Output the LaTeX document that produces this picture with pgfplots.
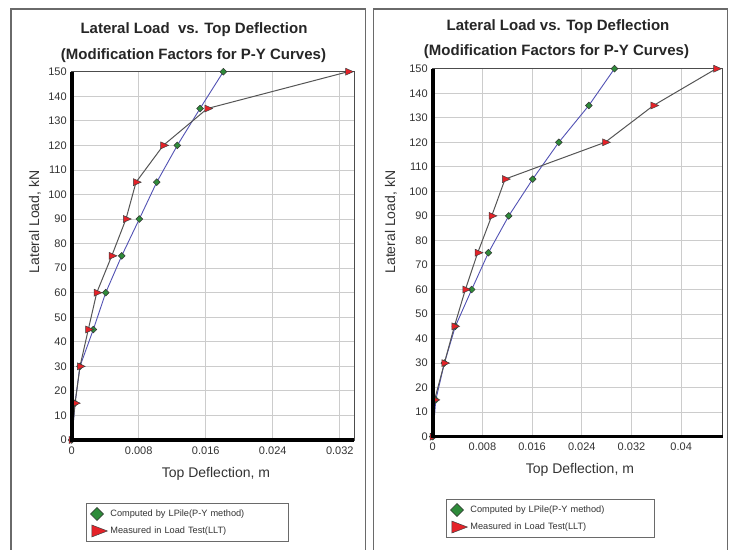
\documentclass[border=0pt]{standalone}
\usepackage{pgfplots}
\pgfplotsset{compat=1.18}
\usepackage{fontspec}
\setmainfont{Liberation Sans}

\definecolor{compblue}{HTML}{5252B4}
\definecolor{measgray}{HTML}{555555}
\definecolor{markgreen}{HTML}{2E8B3A}
\definecolor{markred}{HTML}{E52228}
\definecolor{framegray}{HTML}{6A6A6A}
\definecolor{ticktext}{HTML}{333333}

\pgfplotsset{
  pilechart/.style={
    scale only axis,
    anchor=south west,
    clip=false,
    ymin=0, ymax=150,
    ytick={0,10,...,150},
    scaled x ticks=false,
    grid=major,
    major grid style={draw=black!20, line width=0.8pt},
    axis line style={draw=black!70, line width=0.8pt},
    major tick length=0pt,
    /pgf/number format/assume math mode=true,
    tick label style={font=\fontsize{11}{12}\selectfont, text=ticktext},
    xticklabel style={/pgf/number format/fixed, /pgf/number format/precision=3, yshift=-3pt},
    yticklabel style={xshift=-1.5pt},
    label style={font=\fontsize{14}{16}\selectfont, text=ticktext},
    legend cell align=left,
    legend style={anchor=north west, draw=framegray, line width=1pt,
      font=\fontsize{9.2}{10}\selectfont, text=ticktext,
      inner xsep=4pt, inner ysep=2pt, row sep=0pt, column sep=1pt},
    after end axis/.code={
      \draw[black, line width=3.6pt] (rel axis cs:0,1) -- (rel axis cs:0,0) -- (rel axis cs:1,0);
    },
  },
  computed/.style={color=compblue, line width=0.9pt, mark=square*, mark size=2.4pt,
    mark options={rotate=45, fill=markgreen, draw=black!80, line width=0.5pt},
    legend image code/.code={\draw[##1, mark size=4.6pt] plot coordinates {(0.2cm,0cm)};}},
  measured/.style={color=measgray, line width=1pt, mark=triangle*, mark size=4pt,
    mark options={rotate=-90, yscale=1.3, fill=markred, draw=black!75, line width=0.5pt},
    legend image code/.code={\draw[##1, mark size=6.9pt,
      mark options={rotate=-90, yscale=1.5, fill=markred, draw=black!75, line width=0.5pt}]
      plot coordinates {(0.2cm,0cm)};}},
}

\begin{document}
\begin{tikzpicture}
\useasboundingbox (0pt,0pt) rectangle (731pt,549pt);
\fill[white] (0pt,0pt) rectangle (731pt,549pt);

% panel frames
\draw[framegray, line width=1.3pt] (11pt,-5pt) -- (11pt,540pt) -- (365.5pt,540pt) -- (365.5pt,-5pt);
\draw[framegray, line width=1.3pt] (373.5pt,-5pt) -- (373.5pt,540pt) -- (727.5pt,540pt) -- (727.5pt,-5pt);

% titles
\node[font=\bfseries\fontsize{15}{18}\selectfont, text=black!85] at (194pt,519.5pt) {Lateral Load~ vs. Top Deflection};
\node[font=\bfseries\fontsize{15}{18}\selectfont, text=black!85] at (193.5pt,493.5pt) {(Modification Factors for P-Y Curves)};
\node[font=\bfseries\fontsize{15}{18}\selectfont, text=black!85] at (558pt,522.5pt) {Lateral Load vs. Top Deflection};
\node[font=\bfseries\fontsize{15}{18}\selectfont, text=black!85] at (556.5pt,497.5pt) {(Modification Factors for P-Y Curves)};

% left panel
\begin{axis}[pilechart,
  at={(71.7pt,109pt)}, width=282.3pt, height=368.3pt,
  xmin=0, xmax=0.0337,
  xtick={0,0.008,0.016,0.024,0.032},
  xlabel={Top Deflection, m},
  ylabel={Lateral Load, kN},
  xlabel style={at={(axis description cs:0.511,0)}, anchor=center, yshift=-34pt},
  ylabel style={at={(axis description cs:-0.130,0.592)}, anchor=center},
  legend style={at={(axis description cs:0.0507,-0.171)}, nodes={text width=172pt, inner ysep=4pt, text height=7pt, text depth=2pt}},
]
\addplot[computed] coordinates {
  (0,0) (0.0004,15) (0.00099,30) (0.00258,45) (0.00406,60) (0.00597,75)
  (0.00807,90) (0.01015,105) (0.01261,120) (0.01532,135) (0.0181,150)};
\addlegendentry{Computed by LPile(P-Y method)}
\addplot[measured] coordinates {
  (0,0) (0.0004,15) (0.00099,30) (0.00198,45) (0.00299,60) (0.00478,75)
  (0.00648,90) (0.00768,105) (0.01094,120) (0.0162,135) (0.0330,150)};
\addlegendentry{Measured in Load Test(LLT)}
\end{axis}

% right panel
\begin{axis}[pilechart,
  at={(432.7pt,112.3pt)}, width=289.8pt, height=368pt,
  xmin=0, xmax=0.04665,
  xtick={0,0.008,0.016,0.024,0.032,0.04},
  xlabel={Top Deflection, m},
  ylabel={Lateral Load, kN},
  xlabel style={at={(axis description cs:0.508,0)}, anchor=center, yshift=-33.3pt},
  ylabel style={at={(axis description cs:-0.1439,0.583)}, anchor=center},
  legend style={at={(axis description cs:0.046,-0.1694)}, nodes={text width=178pt, inner ysep=4pt, text height=7pt, text depth=2pt}},
]
\addplot[computed] coordinates {
  (0,0) (0.0005,15) (0.00188,30) (0.00365,45) (0.00628,60) (0.00897,75)
  (0.01224,90) (0.0161,105) (0.0203,120) (0.02513,135) (0.02926,150)};
\addlegendentry{Computed by LPile(P-Y method)}
\addplot[measured] coordinates {
  (0,0) (0.0003,15) (0.00188,30) (0.00349,45) (0.00526,60) (0.00725,75)
  (0.0095,90) (0.01165,105) (0.02776,120) (0.03554,135) (0.04564,150)};
\addlegendentry{Measured in Load Test(LLT)}
\end{axis}
\end{tikzpicture}
\end{document}
